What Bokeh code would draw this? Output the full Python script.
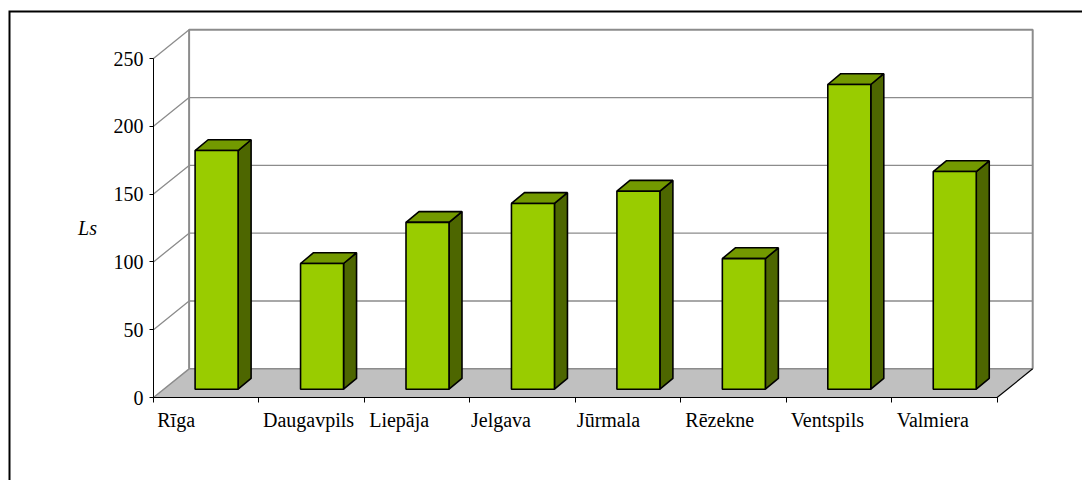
from bokeh.plotting import figure
from bokeh.models import FixedTicker, Label, LinearAxis, PolyAnnotation
from bokeh.embed import file_html
from bokeh.resources import INLINE
import numpy as np

cities = ["Rīga", "Daugavpils", "Liepāja", "Jelgava", "Jūrmala", "Rēzekne", "Ventspils", "Valmiera"]
values = [176, 92.7, 123, 137, 146, 96.3, 224.7, 160.5]
y_ticks = [0, 50, 100, 150, 200, 250]

# horizontal position of each tick label, as its offset within its category
label_shift = [0.215, 0.47, 0.33, 0.295, 0.315, 0.37, 0.39, 0.39]

PX_X = 105.45          # pixels per category
PX_Y = 1.356           # pixels per value unit
DX = 35.6 / PX_X       # depth of the floor
DY = 28.7 / PX_Y
BAR_X0 = 41.6 / PX_X   # bar front-left, relative to its category
BAR_W = 43 / PX_X
BAR_LIFT = 8.3 / PX_Y
BAR_DX = 13 / PX_X
BAR_DY = 10.8 / PX_Y

W, H = 1082, 480
ORIGIN_X, ORIGIN_Y = 153, 397   # where the axes cross, in picture pixels
p = figure(width=W, height=H, output_backend="svg", toolbar_location=None,
           x_range=(-ORIGIN_X / PX_X, (W - ORIGIN_X) / PX_X),
           y_range=(-(H - ORIGIN_Y) / PX_Y, ORIGIN_Y / PX_Y),
           min_border=0, x_axis_location=None, y_axis_location=None)
p.grid.visible = False
p.outline_line_color = None
p.background_fill_color = "white"

n = len(cities)
GRID = "#8c8c8c"
# back wall gridlines and side wall lines
for t in y_ticks[1:-1]:
    p.line([0, DX, n + DX], [t, t + DY, t + DY], line_color=GRID, line_width=1.3)
top = y_ticks[-1]
p.line([0, DX], [top, top + DY], line_color=GRID, line_width=1.3)
p.line([DX, DX, n + DX, n + DX], [DY, top + DY, top + DY, DY], line_color=GRID, line_width=2)

# floor
p.patch([0, DX, n + DX, n], [0, DY, DY, 0], fill_color="#c0c0c0", line_color=None)
p.line([0, DX, n + DX], [0, DY, DY], line_color=GRID, line_width=1.5)
p.line([n, n + DX], [0, DY], line_color="black", line_width=1.2)

# bars
xl = np.arange(n) + BAR_X0
xr = xl + BAR_W
v = np.array(values) + BAR_LIFT
tops_x = [[a, a + BAR_DX, b + BAR_DX, b] for a, b in zip(xl, xr)]
tops_y = [[t, t + BAR_DY, t + BAR_DY, t] for t in v]
side_x = [[b, b + BAR_DX, b + BAR_DX, b] for b in xr]
side_y = [[BAR_LIFT, BAR_LIFT + BAR_DY, t + BAR_DY, t] for t in v]
LW = 1.6
p.patches(side_x, side_y, fill_color="#4d6600", line_color="black", line_width=LW)
p.patches(tops_x, tops_y, fill_color="#739900", line_color="black", line_width=LW)
p.quad(left=xl, right=xr, bottom=BAR_LIFT, top=v, fill_color="#99cc00", line_color="black", line_width=LW)

# axes
ya = LinearAxis(ticker=FixedTicker(ticks=y_ticks), axis_line_color="black", axis_line_width=1,
                major_tick_line_color="black", major_tick_out=4, major_tick_in=0,
                minor_tick_line_color=None, major_label_standoff=6, bounds=(y_ticks[0], y_ticks[-1]),
                fixed_location=0,
                major_label_text_font="Liberation Serif", major_label_text_font_size="20px",
                major_label_text_color="black")
p.add_layout(ya, "left")

centers = [i + s for i, s in enumerate(label_shift)]
xa = LinearAxis(ticker=FixedTicker(ticks=centers, minor_ticks=list(range(n + 1))),
                axis_line_color="black", axis_line_width=1.2, bounds=(0, n), fixed_location=0,
                major_tick_line_color=None, major_tick_out=0, major_tick_in=0,
                minor_tick_line_color="black", minor_tick_out=5, minor_tick_in=0,
                major_label_standoff=6,
                major_label_overrides={c: name for c, name in zip(centers, cities)},
                major_label_text_font="Liberation Serif", major_label_text_font_size="20px",
                major_label_text_color="black")
p.add_layout(xa, "below")

p.add_layout(Label(x=0, y=125, text="Ls", x_offset=-66, text_font="Liberation Serif",
                   text_font_style="italic", text_font_size="20px", text_color="black",
                   text_align="center", text_baseline="middle"))

# chart-area border, cut off by the picture on the right and at the bottom
p.add_layout(PolyAnnotation(xs=[9, 9, W + 40, W + 40], ys=[H + 40, 11, 11, H + 40],
                            xs_units="canvas", ys_units="canvas", line_join="miter",
                            fill_color=None, line_color="black", line_alpha=1.0, line_width=2, level="overlay"))

open("out.html", "w").write(file_html(p, INLINE))
